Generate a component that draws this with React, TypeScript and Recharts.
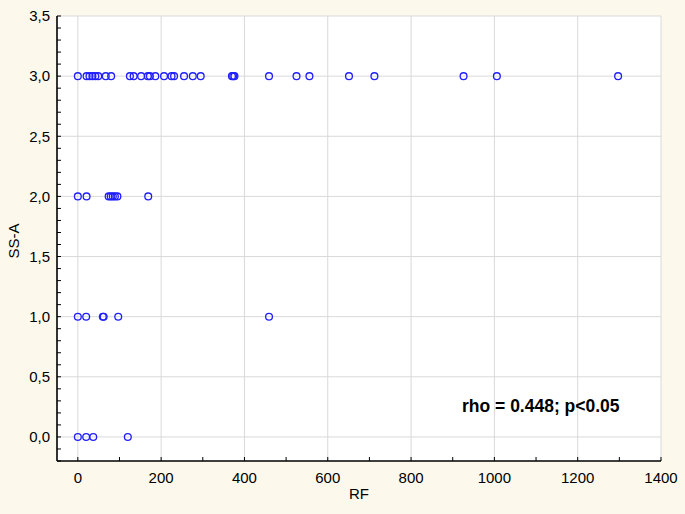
import { CartesianGrid, Scatter, ScatterChart, XAxis, YAxis } from 'recharts';

// RF values for each SS-A level
const rfAtLevel3 = [
  0, 21, 28, 35, 42, 49, 67, 80, 125, 134, 152, 168, 173, 186, 207, 225, 231, 255, 276, 295, 370, 373, 376,
  459, 525, 556, 651, 712, 926, 1006, 1297
];
const rfAtLevel2 = [0, 21, 74, 79, 84, 89, 95, 169];
const rfAtLevel1 = [0, 20, 60, 62, 97, 459];
const rfAtLevel0 = [0, 20, 37, 120];

const xMajorTicks = [0, 200, 400, 600, 800, 1000, 1200, 1400];
const xAllTicks = [0, 100, 200, 300, 400, 500, 600, 700, 800, 900, 1000, 1100, 1200, 1300, 1400];
const yMajorTicks = [0, 0.5, 1, 1.5, 2, 2.5, 3, 3.5];
const yTickLabels = ['0,0', '0,5', '1,0', '1,5', '2,0', '2,5', '3,0', '3,5'];
const yAllTicks = [
  -0.2, -0.1, 0, 0.1, 0.2, 0.3, 0.4, 0.5, 0.6, 0.7, 0.8, 0.9, 1, 1.1, 1.2, 1.3, 1.4, 1.5, 1.6, 1.7, 1.8, 1.9, 2,
  2.1, 2.2, 2.3, 2.4, 2.5, 2.6, 2.7, 2.8, 2.9, 3, 3.1, 3.2, 3.3, 3.4, 3.5
];

const points = [
  ...rfAtLevel3.map((rf) => ({ rf, ssa: 3 })),
  ...rfAtLevel2.map((rf) => ({ rf, ssa: 2 })),
  ...rfAtLevel1.map((rf) => ({ rf, ssa: 1 })),
  ...rfAtLevel0.map((rf) => ({ rf, ssa: 0 }))
];

const font = '"Liberation Sans", Arial, sans-serif';
const tickStyle = { fontSize: 15, fill: '#000', fontFamily: font };

const formatX = (v: number) => (xMajorTicks.includes(v) ? String(v) : '');
const formatY = (v: number) => {
  const i = yMajorTicks.findIndex((t) => Math.abs(t - v) < 1e-6);
  return i >= 0 ? yTickLabels[i] : '';
};

const OpenCircle = (props: any) => {
  const { cx, cy } = props;
  return <circle cx={cx} cy={cy} r={3.4} fill="none" stroke="#1f1fff" strokeWidth={1.3} />;
};

const axisLine = { stroke: '#000', strokeWidth: 1.6 };
const tickLine = { stroke: '#000', strokeWidth: 1 };

export default function App() {
  return (
    <div
      style={{
        position: 'absolute',
        left: 0,
        top: 0,
        width: 685,
        height: 514,
        background: '#fcf8ec',
        fontFamily: font
      }}
    >
      <ScatterChart width={685} height={514} margin={{ top: 16, right: 24, bottom: 0, left: 0 }}>
        <CartesianGrid
          stroke="#d9d9d9"
          strokeWidth={1}
          horizontalValues={yMajorTicks}
          verticalValues={xMajorTicks}
          fill="#ffffff"
          fillOpacity={1}
        />
        <XAxis
          type="number"
          dataKey="rf"
          domain={[-50, 1400]}
          allowDataOverflow
          ticks={xAllTicks}
          interval={0}
          tickFormatter={formatX}
          height={53}
          tickSize={-4}
          tickMargin={15}
          tick={tickStyle}
          axisLine={axisLine}
          tickLine={tickLine}
        />
        <XAxis
          xAxisId="top"
          orientation="top"
          type="number"
          domain={[-50, 1400]}
          allowDataOverflow
          ticks={xAllTicks}
          interval={0}
          tickFormatter={() => ''}
          height={0}
          tickSize={-4}
          axisLine={axisLine}
          tickLine={tickLine}
        />
        <YAxis
          type="number"
          dataKey="ssa"
          domain={[-0.2, 3.5]}
          allowDataOverflow
          ticks={yAllTicks}
          interval={0}
          tickFormatter={formatY}
          width={57}
          tickSize={-4}
          tickMargin={11}
          tick={tickStyle}
          axisLine={axisLine}
          tickLine={tickLine}
        />
        <YAxis
          yAxisId="right"
          orientation="right"
          type="number"
          domain={[-0.2, 3.5]}
          allowDataOverflow
          ticks={yAllTicks}
          interval={0}
          tickFormatter={() => ''}
          width={0}
          tickSize={-4}
          axisLine={axisLine}
          tickLine={tickLine}
        />
        <Scatter data={points} shape={OpenCircle} isAnimationActive={false} />
      </ScatterChart>
      <div
        style={{
          position: 'absolute',
          left: 359,
          top: 486,
          transform: 'translateX(-50%)',
          fontSize: 15,
          color: '#000',
          lineHeight: '16px'
        }}
      >
        RF
      </div>
      <div
        style={{
          position: 'absolute',
          left: 14,
          top: 241,
          transform: 'translate(-50%, -50%) rotate(-90deg)',
          fontSize: 15,
          color: '#000',
          lineHeight: '16px',
          whiteSpace: 'nowrap'
        }}
      >
        SS-A
      </div>
      <div
        style={{
          position: 'absolute',
          left: 462,
          top: 396,
          fontSize: 17.5,
          fontWeight: 'bold',
          color: '#000',
          lineHeight: '20px',
          whiteSpace: 'nowrap'
        }}
      >
        rho = 0.448; p&lt;0.05
      </div>
    </div>
  );
}
